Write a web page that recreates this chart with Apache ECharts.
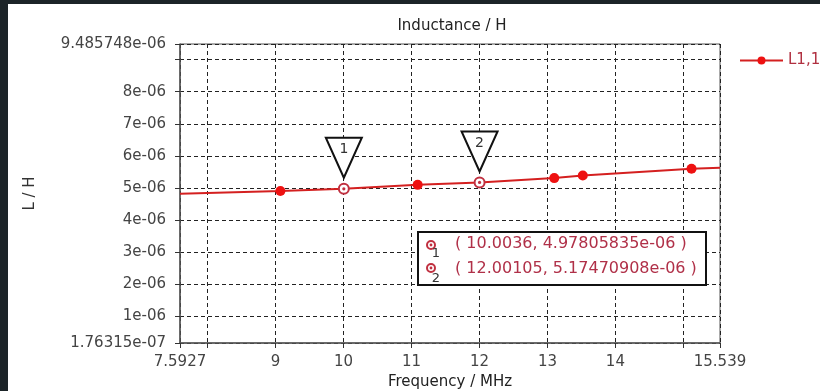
<!DOCTYPE html>
<html>
<head>
<meta charset="utf-8">
<script src="https://cdn.jsdelivr.net/npm/echarts@6/dist/echarts.min.js"></script>
<style>
html,body{margin:0;padding:0;background:#fff;}
#c{width:820px;height:391px;}
</style>
</head>
<body>
<div id="c"></div>
<script>
// ---- data ----
var xMin = 7.5927, xMax = 15.539;
var yMin = 1.76315e-7, yMax = 9.485748e-6;
var xTickValues = [7.5927, 8, 9, 10, 11, 12, 13, 14, 15, 15.539];
var xLabelValues = [7.5927, 9, 10, 11, 12, 13, 14, 15.539];
var yTickValues = [1.76315e-7, 1e-6, 2e-6, 3e-6, 4e-6, 5e-6, 6e-6, 7e-6, 8e-6, 9e-6, 9.485748e-6];
var yLabelValues = [1.76315e-7, 1e-6, 2e-6, 3e-6, 4e-6, 5e-6, 6e-6, 7e-6, 8e-6, 9.485748e-6];
var seriesName = 'L1,1';
// curve points (frequency MHz, inductance H); dotted = shown with a filled marker
var curveX = [7.5927, 9.07, 10.0036, 11.09, 12.00105, 13.10, 13.52, 15.12, 15.539];
var curveY = [4.82e-6, 4.91e-6, 4.97805835e-6, 5.10e-6, 5.17470908e-6, 5.31e-6, 5.39e-6, 5.60e-6, 5.63e-6];
var curveDot = [false, true, false, true, false, true, true, true, false];
var markerLabels = ['1', '2'];
var markerX = [10.0036, 12.00105];
var markerY = [4.97805835e-6, 5.17470908e-6];
var markerText = ['( 10.0036, 4.97805835e-06 )', '( 12.00105, 5.17470908e-06 )'];

// ---- build ----
var FONT = 'DejaVu Sans';
var lineData = curveX.map(function (x, i) {
  return { value: [x, curveY[i]], symbol: curveDot[i] ? 'circle' : 'none' };
});
var markerData = markerX.map(function (x, i) { return [x, markerY[i], markerLabels[i]]; });

function fmtY(v) {
  if (Math.abs(v - yMin) < 1e-12) return '1.76315e-07';
  if (Math.abs(v - yMax) < 1e-12) return '9.485748e-06';
  return Math.round(v * 1e6) + 'e-06';
}
function fmtX(v) {
  if (Math.abs(v - xMin) < 1e-6) return '7.5927';
  if (Math.abs(v - xMax) < 1e-6) return '15.539';
  return String(Math.round(v));
}

var chart = echarts.init(document.getElementById('c'), null, { renderer: 'canvas' });
var gridLineStyle = { color: '#222', width: 1, type: [4, 3] };
chart.setOption({
  animation: false,
  backgroundColor: '#fff',
  textStyle: { fontFamily: FONT },
  title: {
    text: 'Inductance / H', left: 447, top: 14, textAlign: 'center',
    textStyle: { fontFamily: FONT, fontSize: 15, fontWeight: 'normal', color: '#222' }
  },
  legend: {
    left: 734, top: 48, itemWidth: 43, itemHeight: 10, itemGap: 6,
    data: [seriesName],
    textStyle: { fontFamily: FONT, fontSize: 15, color: '#b03040' }
  },
  grid: { left: 180, right: 100, top: 44, bottom: 48, show: true, borderColor: '#555', borderWidth: 1,
    outerBoundsMode: 'none', containLabel: false },
  xAxis: {
    type: 'value', min: xMin, max: xMax,
    name: 'Frequency / MHz', nameLocation: 'middle', nameGap: 32,
    nameTextStyle: { fontFamily: FONT, fontSize: 15, color: '#222' },
    axisLine: { show: true, lineStyle: { color: '#555', width: 1.5 } },
    axisTick: { show: true, length: 5, customValues: xTickValues, lineStyle: { color: '#333' } },
    axisLabel: { customValues: xLabelValues, formatter: fmtX, margin: 12,
      fontFamily: FONT, fontSize: 15, color: '#444' },
    splitLine: { show: true, lineStyle: gridLineStyle }
  },
  yAxis: {
    type: 'value', min: yMin, max: yMax,
    name: 'L / H', nameLocation: 'middle', nameGap: 142, nameRotate: 90,
    nameTextStyle: { fontFamily: FONT, fontSize: 15, color: '#333' },
    axisLine: { show: true, lineStyle: { color: '#555', width: 1.5 } },
    axisTick: { show: true, length: 5, customValues: yTickValues, lineStyle: { color: '#333' } },
    axisLabel: { customValues: yLabelValues, formatter: fmtY, margin: 14,
      fontFamily: FONT, fontSize: 15, color: '#444' },
    splitLine: { show: true, lineStyle: gridLineStyle }
  },
  series: [
    {
      name: seriesName, type: 'line', data: lineData,
      symbol: 'circle', symbolSize: 10, showAllSymbol: true,
      lineStyle: { color: '#d42020', width: 2 },
      itemStyle: { color: '#ee1111' },
      z: 3
    },
    {
      type: 'custom', data: markerData, z: 5, silent: true,
      renderItem: function (params, api) {
        var p = api.coord([api.value(0), api.value(1)]);
        var lbl = markerLabels[params.dataIndex];
        return {
          type: 'group',
          children: [
            { type: 'polygon', shape: { points: [[p[0] - 18, p[1] - 51], [p[0] + 18, p[1] - 51], [p[0], p[1] - 11]] },
              style: { fill: '#fff', stroke: '#111', lineWidth: 2 } },
            { type: 'text', x: p[0], y: p[1] - 39,
              style: { text: lbl, fontFamily: FONT, fontSize: 14, fill: '#333', align: 'center', verticalAlign: 'middle' } },
            { type: 'circle', shape: { cx: p[0], cy: p[1], r: 5 },
              style: { fill: '#fff', stroke: '#c03040', lineWidth: 2 } },
            { type: 'circle', shape: { cx: p[0], cy: p[1], r: 1.6 },
              style: { fill: '#c03040' } }
          ]
        };
      }
    }
  ],
  graphic: [
    { type: 'rect', shape: { x: 0, y: 0, width: 820, height: 4 }, style: { fill: '#1c2428' }, z: 100 },
    { type: 'rect', shape: { x: 0, y: 0, width: 8, height: 391 }, style: { fill: '#1c2428' }, z: 100 },
    { type: 'rect', shape: { x: 418, y: 232, width: 288, height: 53 }, style: { fill: '#fff', stroke: '#111', lineWidth: 2 }, z: 50 },
    { type: 'circle', shape: { cx: 431, cy: 245, r: 4 }, style: { fill: '#fff', stroke: '#c03040', lineWidth: 2 }, z: 51 },
    { type: 'circle', shape: { cx: 431, cy: 245, r: 1.4 }, style: { fill: '#c03040' }, z: 52 },
    { type: 'circle', shape: { cx: 431, cy: 268, r: 4 }, style: { fill: '#fff', stroke: '#c03040', lineWidth: 2 }, z: 51 },
    { type: 'circle', shape: { cx: 431, cy: 268, r: 1.4 }, style: { fill: '#c03040' }, z: 52 },
    { type: 'text', x: 436, y: 254, style: { text: markerLabels[0], fontFamily: FONT, fontSize: 13, fill: '#333', align: 'center', verticalAlign: 'middle' }, z: 52 },
    { type: 'text', x: 436, y: 279, style: { text: markerLabels[1], fontFamily: FONT, fontSize: 13, fill: '#333', align: 'center', verticalAlign: 'middle' }, z: 52 },
    { type: 'text', x: 455, y: 244, style: { text: markerText[0], fontFamily: FONT, fontSize: 16, fill: '#b03048', align: 'left', verticalAlign: 'middle' }, z: 52 },
    { type: 'text', x: 455, y: 269, style: { text: markerText[1], fontFamily: FONT, fontSize: 16, fill: '#b03048', align: 'left', verticalAlign: 'middle' }, z: 52 }
  ]
});
</script>
</body>
</html>
